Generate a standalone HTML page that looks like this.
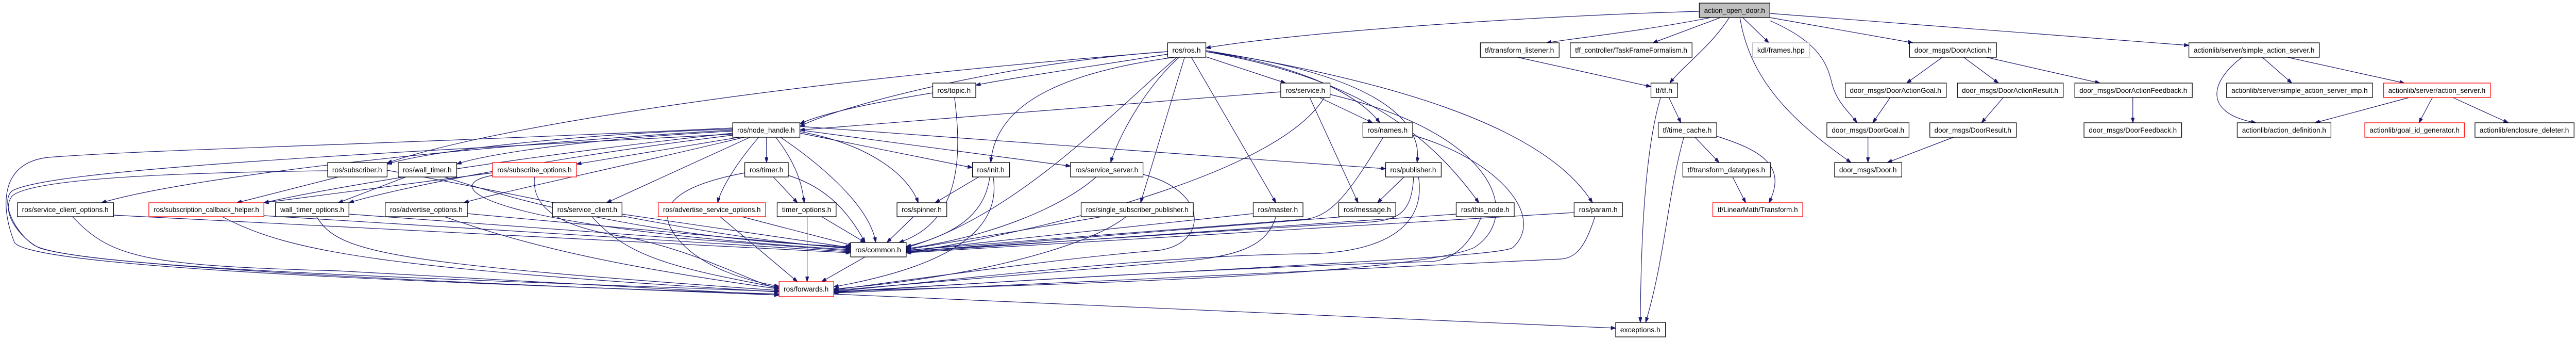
<!DOCTYPE html>
<html><head><meta charset="utf-8"><style>
html,body{margin:0;padding:0;background:#fff;width:100%;height:100%;overflow:hidden}
svg{display:block;width:100vw;height:100vh}
.e{fill:none;stroke:#191970;stroke-width:1.2}
.n{fill:#fff;stroke:#000;stroke-width:1.3}
.r{fill:#fff;stroke:#ff0000;stroke-width:1.3}
text{font-family:"Liberation Sans","DejaVu Sans",sans-serif;font-size:14px;fill:#000;text-anchor:middle}
</style></head><body>
<svg viewBox="0 0 5330 659" preserveAspectRatio="none" xmlns="http://www.w3.org/2000/svg">
<defs><marker id="a" viewBox="0 0 10 7" markerWidth="10" markerHeight="7" markerUnits="userSpaceOnUse" refX="10" refY="3.5" orient="auto"><path d="M0,0 L10,3.5 L0,7 z" fill="#191970" stroke="#191970"/></marker></defs>
<g class="e" marker-end="url(#a)">
<path d="M3516 22 C3200 30 2700 60 2495 93"/>
<path d="M3540 34 C3400 60 3250 75 3200 83"/>
<path d="M3560 34 L3420 83"/>
<path d="M3578 34 C3540 90 3480 130 3455 161"/>
<path d="M3606 34 L3660 83"/>
<path d="M3662 40 C3760 80 3780 120 3790 160 C3800 200 3830 220 3842 238"/>
<path d="M3600 34 C3620 150 3700 230 3830 315"/>
<path d="M3662 34 L3958 83"/>
<path d="M3662 26 L4529 88"/>
<path d="M2416 105 C2250 130 2100 150 2019 165"/>
<path d="M2416 100 C2100 120 1750 200 1655 245"/>
<path d="M2495 110 L2660 161"/>
<path d="M2430 111 C2200 140 2060 200 2050 315"/>
<path d="M2440 111 C2380 160 2320 250 2298 315"/>
<path d="M2451 111 L2360 393"/>
<path d="M2465 111 L2640 393"/>
<path d="M2435 111 C2300 220 2100 420 1875 480"/>
<path d="M2495 100 C2650 120 2800 170 2855 238"/>
<path d="M2495 100 C2750 130 2950 200 2932 315"/>
<path d="M2495 100 C2800 150 2950 250 3060 393"/>
<path d="M2495 98 C2900 160 3200 250 3295 393"/>
<path d="M2416 100 C1600 160 1000 250 801 316"/>
<path d="M1930 180 C1800 200 1700 220 1655 240"/>
<path d="M1975 189 C1990 300 1990 430 1860 470"/>
<path d="M2650 178 L1655 252"/>
<path d="M2730 189 L2840 238"/>
<path d="M2710 189 L2810 393"/>
<path d="M2740 189 C2650 330 2200 440 1875 490"/>
<path d="M2752 183 C3100 260 3150 420 3050 480 C2900 540 2000 555 1725 565"/>
<path d="M1516 250 C1200 260 900 290 801 318"/>
<path d="M1516 254 C1200 270 1000 300 945 318"/>
<path d="M1530 266 L1193 318"/>
<path d="M1516 252 C1000 280 400 340 210 393"/>
<path d="M1516 258 C1100 300 700 360 546 393"/>
<path d="M1516 262 C1100 310 800 370 722 393"/>
<path d="M1540 266 C1300 320 1000 380 960 393"/>
<path d="M1552 266 L1255 393"/>
<path d="M1570 266 C1520 320 1490 370 1485 393"/>
<path d="M1586 266 L1586 315"/>
<path d="M1605 266 C1650 320 1660 360 1664 393"/>
<path d="M1615 266 C1700 320 1800 400 1812 470"/>
<path d="M1516 248 C800 280 300 290 100 305 C0 315 0 400 30 470 C60 510 600 540 1612 570"/>
<path d="M1516 260 C700 300 100 330 25 370 C0 390 30 450 70 475 C150 520 900 540 1612 565"/>
<path d="M1655 255 C1800 280 1880 340 1900 393"/>
<path d="M1655 258 L2012 325"/>
<path d="M1655 252 L2215 322"/>
<path d="M1655 245 L2867 327"/>
<path d="M700 343 L490 393"/>
<path d="M801 330 C1100 380 1500 470 1760 480"/>
<path d="M678 331 C300 335 60 350 25 380 C0 410 40 460 80 480 C200 520 1000 550 1612 572"/>
<path d="M840 343 L700 393"/>
<path d="M920 343 C1200 430 1500 470 1760 478"/>
<path d="M1019 335 L546 393"/>
<path d="M1019 340 C900 360 1000 440 1760 484"/>
<path d="M1106 343 C1100 400 1150 440 1300 460 C1450 490 1550 545 1612 560"/>
<path d="M1600 343 L1650 393"/>
<path d="M1631 340 C1700 360 1750 400 1790 470"/>
<path d="M1541 335 C1400 360 1350 400 1400 460 C1450 520 1550 545 1612 555"/>
<path d="M2025 343 L1935 393"/>
<path d="M2048 343 C2040 400 2000 450 1875 478"/>
<path d="M2055 343 C2070 430 2000 510 1725 556"/>
<path d="M2268 343 C2200 400 2050 460 1875 482"/>
<path d="M2365 338 C2500 370 2500 470 2400 485 C2200 500 1900 540 1725 562"/>
<path d="M2280 420 L1875 484"/>
<path d="M2330 420 C2250 480 2000 540 1725 560"/>
<path d="M2593 414 L1875 486"/>
<path d="M2640 420 C2620 480 2560 500 2400 510 C2200 525 1900 550 1725 563"/>
<path d="M2780 420 L1875 488"/>
<path d="M2905 343 L2850 393"/>
<path d="M2925 343 C2920 420 2890 430 2800 432 L1875 487"/>
<path d="M2935 343 C2950 430 2880 490 2700 492 C2400 495 2000 540 1725 565"/>
<path d="M2862 266 C2800 360 2760 420 2700 425 L1875 485"/>
<path d="M2923 262 C3100 310 3200 420 3130 480 C3100 500 2500 520 1725 566"/>
<path d="M3013 415 L1875 489"/>
<path d="M3065 420 C3040 480 3000 505 2960 507 C2500 520 2000 550 1725 567"/>
<path d="M3257 412 L1875 490"/>
<path d="M3300 420 C3280 480 3260 500 3230 502 C2800 520 2200 550 1725 568"/>
<path d="M1725 570 L3343 636"/>
<path d="M1790 498 L1700 546"/>
<path d="M235 417 L1760 490"/>
<path d="M150 420 C230 500 300 515 700 525 L1612 572"/>
<path d="M460 420 C600 490 800 520 1612 566"/>
<path d="M546 418 L1760 488"/>
<path d="M722 415 L1760 486"/>
<path d="M655 420 C700 490 800 510 1612 563"/>
<path d="M967 414 L1760 482"/>
<path d="M920 420 C1100 480 1300 520 1612 560"/>
<path d="M1287 415 L1760 480"/>
<path d="M1225 420 C1300 500 1400 520 1612 558"/>
<path d="M1535 420 L1765 476"/>
<path d="M1490 420 L1650 546"/>
<path d="M1700 420 L1790 470"/>
<path d="M1670 420 L1670 546"/>
<path d="M1890 420 L1835 470"/>
<path d="M3140 111 L3416 168"/>
<path d="M3453 189 L3478 238"/>
<path d="M3436 189 C3400 300 3395 500 3394 625"/>
<path d="M3507 266 L3557 315"/>
<path d="M3484 266 C3450 380 3445 500 3405 625"/>
<path d="M3552 264 C3640 290 3700 320 3660 393"/>
<path d="M3585 343 L3612 393"/>
<path d="M4019 111 L3945 161"/>
<path d="M4063 111 L4135 161"/>
<path d="M4110 111 L4345 161"/>
<path d="M3911 189 L3875 238"/>
<path d="M4145 189 L4100 238"/>
<path d="M4413 189 L4413 238"/>
<path d="M3865 266 L3865 315"/>
<path d="M4042 266 L3905 315"/>
<path d="M4639 111 C4570 160 4560 220 4668 238"/>
<path d="M4681 111 L4742 161"/>
<path d="M4733 111 L4975 161"/>
<path d="M4985 189 L4790 238"/>
<path d="M5033 189 L5005 238"/>
<path d="M5075 189 L5190 238"/>
</g>
<g>
<rect x="3516" y="6" width="146" height="28" fill="#bfbfbf" stroke="#000" stroke-width="1.3"/><text x="3589" y="25" textLength="126" lengthAdjust="spacingAndGlyphs">action_open_door.h</text>
<rect class="n" x="2416" y="83" width="79" height="28"/><text x="2455" y="102" textLength="59" lengthAdjust="spacingAndGlyphs">ros/ros.h</text>
<rect class="n" x="3063" y="83" width="163" height="28"/><text x="3144" y="102" textLength="143" lengthAdjust="spacingAndGlyphs">tf/transform_listener.h</text>
<rect class="n" x="3249" y="83" width="252" height="28"/><text x="3375" y="102" textLength="232" lengthAdjust="spacingAndGlyphs">tff_controller/TaskFrameFormalism.h</text>
<rect x="3626" y="83" width="118" height="28" fill="#fff" stroke="#bfbfbf" stroke-width="1.3"/><text x="3685" y="102" textLength="98" lengthAdjust="spacingAndGlyphs">kdl/frames.hpp</text>
<rect class="n" x="3951" y="83" width="180" height="28"/><text x="4041" y="102" textLength="160" lengthAdjust="spacingAndGlyphs">door_msgs/DoorAction.h</text>
<rect class="n" x="4529" y="83" width="270" height="28"/><text x="4664" y="102" textLength="250" lengthAdjust="spacingAndGlyphs">actionlib/server/simple_action_server.h</text>
<rect class="n" x="1930" y="161" width="89" height="28"/><text x="1974" y="180" textLength="69" lengthAdjust="spacingAndGlyphs">ros/topic.h</text>
<rect class="n" x="2650" y="161" width="102" height="28"/><text x="2701" y="180" textLength="82" lengthAdjust="spacingAndGlyphs">ros/service.h</text>
<rect class="n" x="3416" y="161" width="55" height="28"/><text x="3443" y="180" textLength="35" lengthAdjust="spacingAndGlyphs">tf/tf.h</text>
<rect class="n" x="3818" y="161" width="209" height="28"/><text x="3922" y="180" textLength="189" lengthAdjust="spacingAndGlyphs">door_msgs/DoorActionGoal.h</text>
<rect class="n" x="4050" y="161" width="219" height="28"/><text x="4159" y="180" textLength="199" lengthAdjust="spacingAndGlyphs">door_msgs/DoorActionResult.h</text>
<rect class="n" x="4293" y="161" width="243" height="28"/><text x="4414" y="180" textLength="223" lengthAdjust="spacingAndGlyphs">door_msgs/DoorActionFeedback.h</text>
<rect class="n" x="4607" y="161" width="302" height="28"/><text x="4758" y="180" textLength="282" lengthAdjust="spacingAndGlyphs">actionlib/server/simple_action_server_imp.h</text>
<rect class="r" x="4932" y="161" width="221" height="28"/><text x="5042" y="180" textLength="201" lengthAdjust="spacingAndGlyphs">actionlib/server/action_server.h</text>
<rect class="n" x="1516" y="238" width="139" height="28"/><text x="1585" y="257" textLength="119" lengthAdjust="spacingAndGlyphs">ros/node_handle.h</text>
<rect class="n" x="2820" y="238" width="103" height="28"/><text x="2871" y="257" textLength="83" lengthAdjust="spacingAndGlyphs">ros/names.h</text>
<rect class="n" x="3431" y="238" width="121" height="28"/><text x="3491" y="257" textLength="101" lengthAdjust="spacingAndGlyphs">tf/time_cache.h</text>
<rect class="n" x="3780" y="238" width="170" height="28"/><text x="3865" y="257" textLength="150" lengthAdjust="spacingAndGlyphs">door_msgs/DoorGoal.h</text>
<rect class="n" x="3993" y="238" width="179" height="28"/><text x="4082" y="257" textLength="159" lengthAdjust="spacingAndGlyphs">door_msgs/DoorResult.h</text>
<rect class="n" x="4312" y="238" width="202" height="28"/><text x="4413" y="257" textLength="182" lengthAdjust="spacingAndGlyphs">door_msgs/DoorFeedback.h</text>
<rect class="n" x="4629" y="238" width="194" height="28"/><text x="4726" y="257" textLength="174" lengthAdjust="spacingAndGlyphs">actionlib/action_definition.h</text>
<rect class="r" x="4893" y="238" width="206" height="28"/><text x="4996" y="257" textLength="186" lengthAdjust="spacingAndGlyphs">actionlib/goal_id_generator.h</text>
<rect class="n" x="5121" y="238" width="205" height="28"/><text x="5223" y="257" textLength="185" lengthAdjust="spacingAndGlyphs">actionlib/enclosure_deleter.h</text>
<rect class="n" x="678" y="315" width="123" height="28"/><text x="739" y="334" textLength="103" lengthAdjust="spacingAndGlyphs">ros/subscriber.h</text>
<rect class="n" x="824" y="315" width="121" height="28"/><text x="884" y="334" textLength="101" lengthAdjust="spacingAndGlyphs">ros/wall_timer.h</text>
<rect class="r" x="1019" y="315" width="174" height="28"/><text x="1106" y="334" textLength="154" lengthAdjust="spacingAndGlyphs">ros/subscribe_options.h</text>
<rect class="n" x="1541" y="315" width="90" height="28"/><text x="1586" y="334" textLength="70" lengthAdjust="spacingAndGlyphs">ros/timer.h</text>
<rect class="n" x="2012" y="315" width="77" height="28"/><text x="2050" y="334" textLength="57" lengthAdjust="spacingAndGlyphs">ros/init.h</text>
<rect class="n" x="2215" y="315" width="150" height="28"/><text x="2290" y="334" textLength="130" lengthAdjust="spacingAndGlyphs">ros/service_server.h</text>
<rect class="n" x="2867" y="315" width="115" height="28"/><text x="2924" y="334" textLength="95" lengthAdjust="spacingAndGlyphs">ros/publisher.h</text>
<rect class="n" x="3482" y="315" width="181" height="28"/><text x="3572" y="334" textLength="161" lengthAdjust="spacingAndGlyphs">tf/transform_datatypes.h</text>
<rect class="n" x="3796" y="315" width="139" height="28"/><text x="3865" y="334" textLength="119" lengthAdjust="spacingAndGlyphs">door_msgs/Door.h</text>
<rect class="n" x="36" y="393" width="199" height="27"/><text x="135" y="411" textLength="179" lengthAdjust="spacingAndGlyphs">ros/service_client_options.h</text>
<rect class="r" x="308" y="393" width="238" height="27"/><text x="427" y="411" textLength="218" lengthAdjust="spacingAndGlyphs">ros/subscription_callback_helper.h</text>
<rect class="n" x="570" y="393" width="152" height="27"/><text x="646" y="411" textLength="132" lengthAdjust="spacingAndGlyphs">wall_timer_options.h</text>
<rect class="n" x="797" y="393" width="170" height="27"/><text x="882" y="411" textLength="150" lengthAdjust="spacingAndGlyphs">ros/advertise_options.h</text>
<rect class="n" x="1143" y="393" width="144" height="27"/><text x="1215" y="411" textLength="124" lengthAdjust="spacingAndGlyphs">ros/service_client.h</text>
<rect class="r" x="1362" y="393" width="222" height="27"/><text x="1473" y="411" textLength="202" lengthAdjust="spacingAndGlyphs">ros/advertise_service_options.h</text>
<rect class="n" x="1608" y="393" width="122" height="27"/><text x="1669" y="411" textLength="102" lengthAdjust="spacingAndGlyphs">timer_options.h</text>
<rect class="n" x="1856" y="393" width="103" height="27"/><text x="1907" y="411" textLength="83" lengthAdjust="spacingAndGlyphs">ros/spinner.h</text>
<rect class="n" x="2237" y="393" width="232" height="27"/><text x="2353" y="411" textLength="212" lengthAdjust="spacingAndGlyphs">ros/single_subscriber_publisher.h</text>
<rect class="n" x="2593" y="393" width="103" height="27"/><text x="2644" y="411" textLength="83" lengthAdjust="spacingAndGlyphs">ros/master.h</text>
<rect class="n" x="2770" y="393" width="118" height="27"/><text x="2829" y="411" textLength="98" lengthAdjust="spacingAndGlyphs">ros/message.h</text>
<rect class="n" x="3013" y="393" width="120" height="27"/><text x="3073" y="411" textLength="100" lengthAdjust="spacingAndGlyphs">ros/this_node.h</text>
<rect class="n" x="3257" y="393" width="100" height="27"/><text x="3307" y="411" textLength="80" lengthAdjust="spacingAndGlyphs">ros/param.h</text>
<rect class="r" x="3544" y="393" width="186" height="27"/><text x="3637" y="411" textLength="166" lengthAdjust="spacingAndGlyphs">tf/LinearMath/Transform.h</text>
<rect class="n" x="1760" y="470" width="115" height="28"/><text x="1817" y="489" textLength="95" lengthAdjust="spacingAndGlyphs">ros/common.h</text>
<rect class="r" x="1612" y="546" width="113" height="29"/><text x="1668" y="565" textLength="93" lengthAdjust="spacingAndGlyphs">ros/forwards.h</text>
<rect class="n" x="3343" y="625" width="103" height="28"/><text x="3394" y="644" textLength="83" lengthAdjust="spacingAndGlyphs">exceptions.h</text>
</g>
</svg>
</body></html>
